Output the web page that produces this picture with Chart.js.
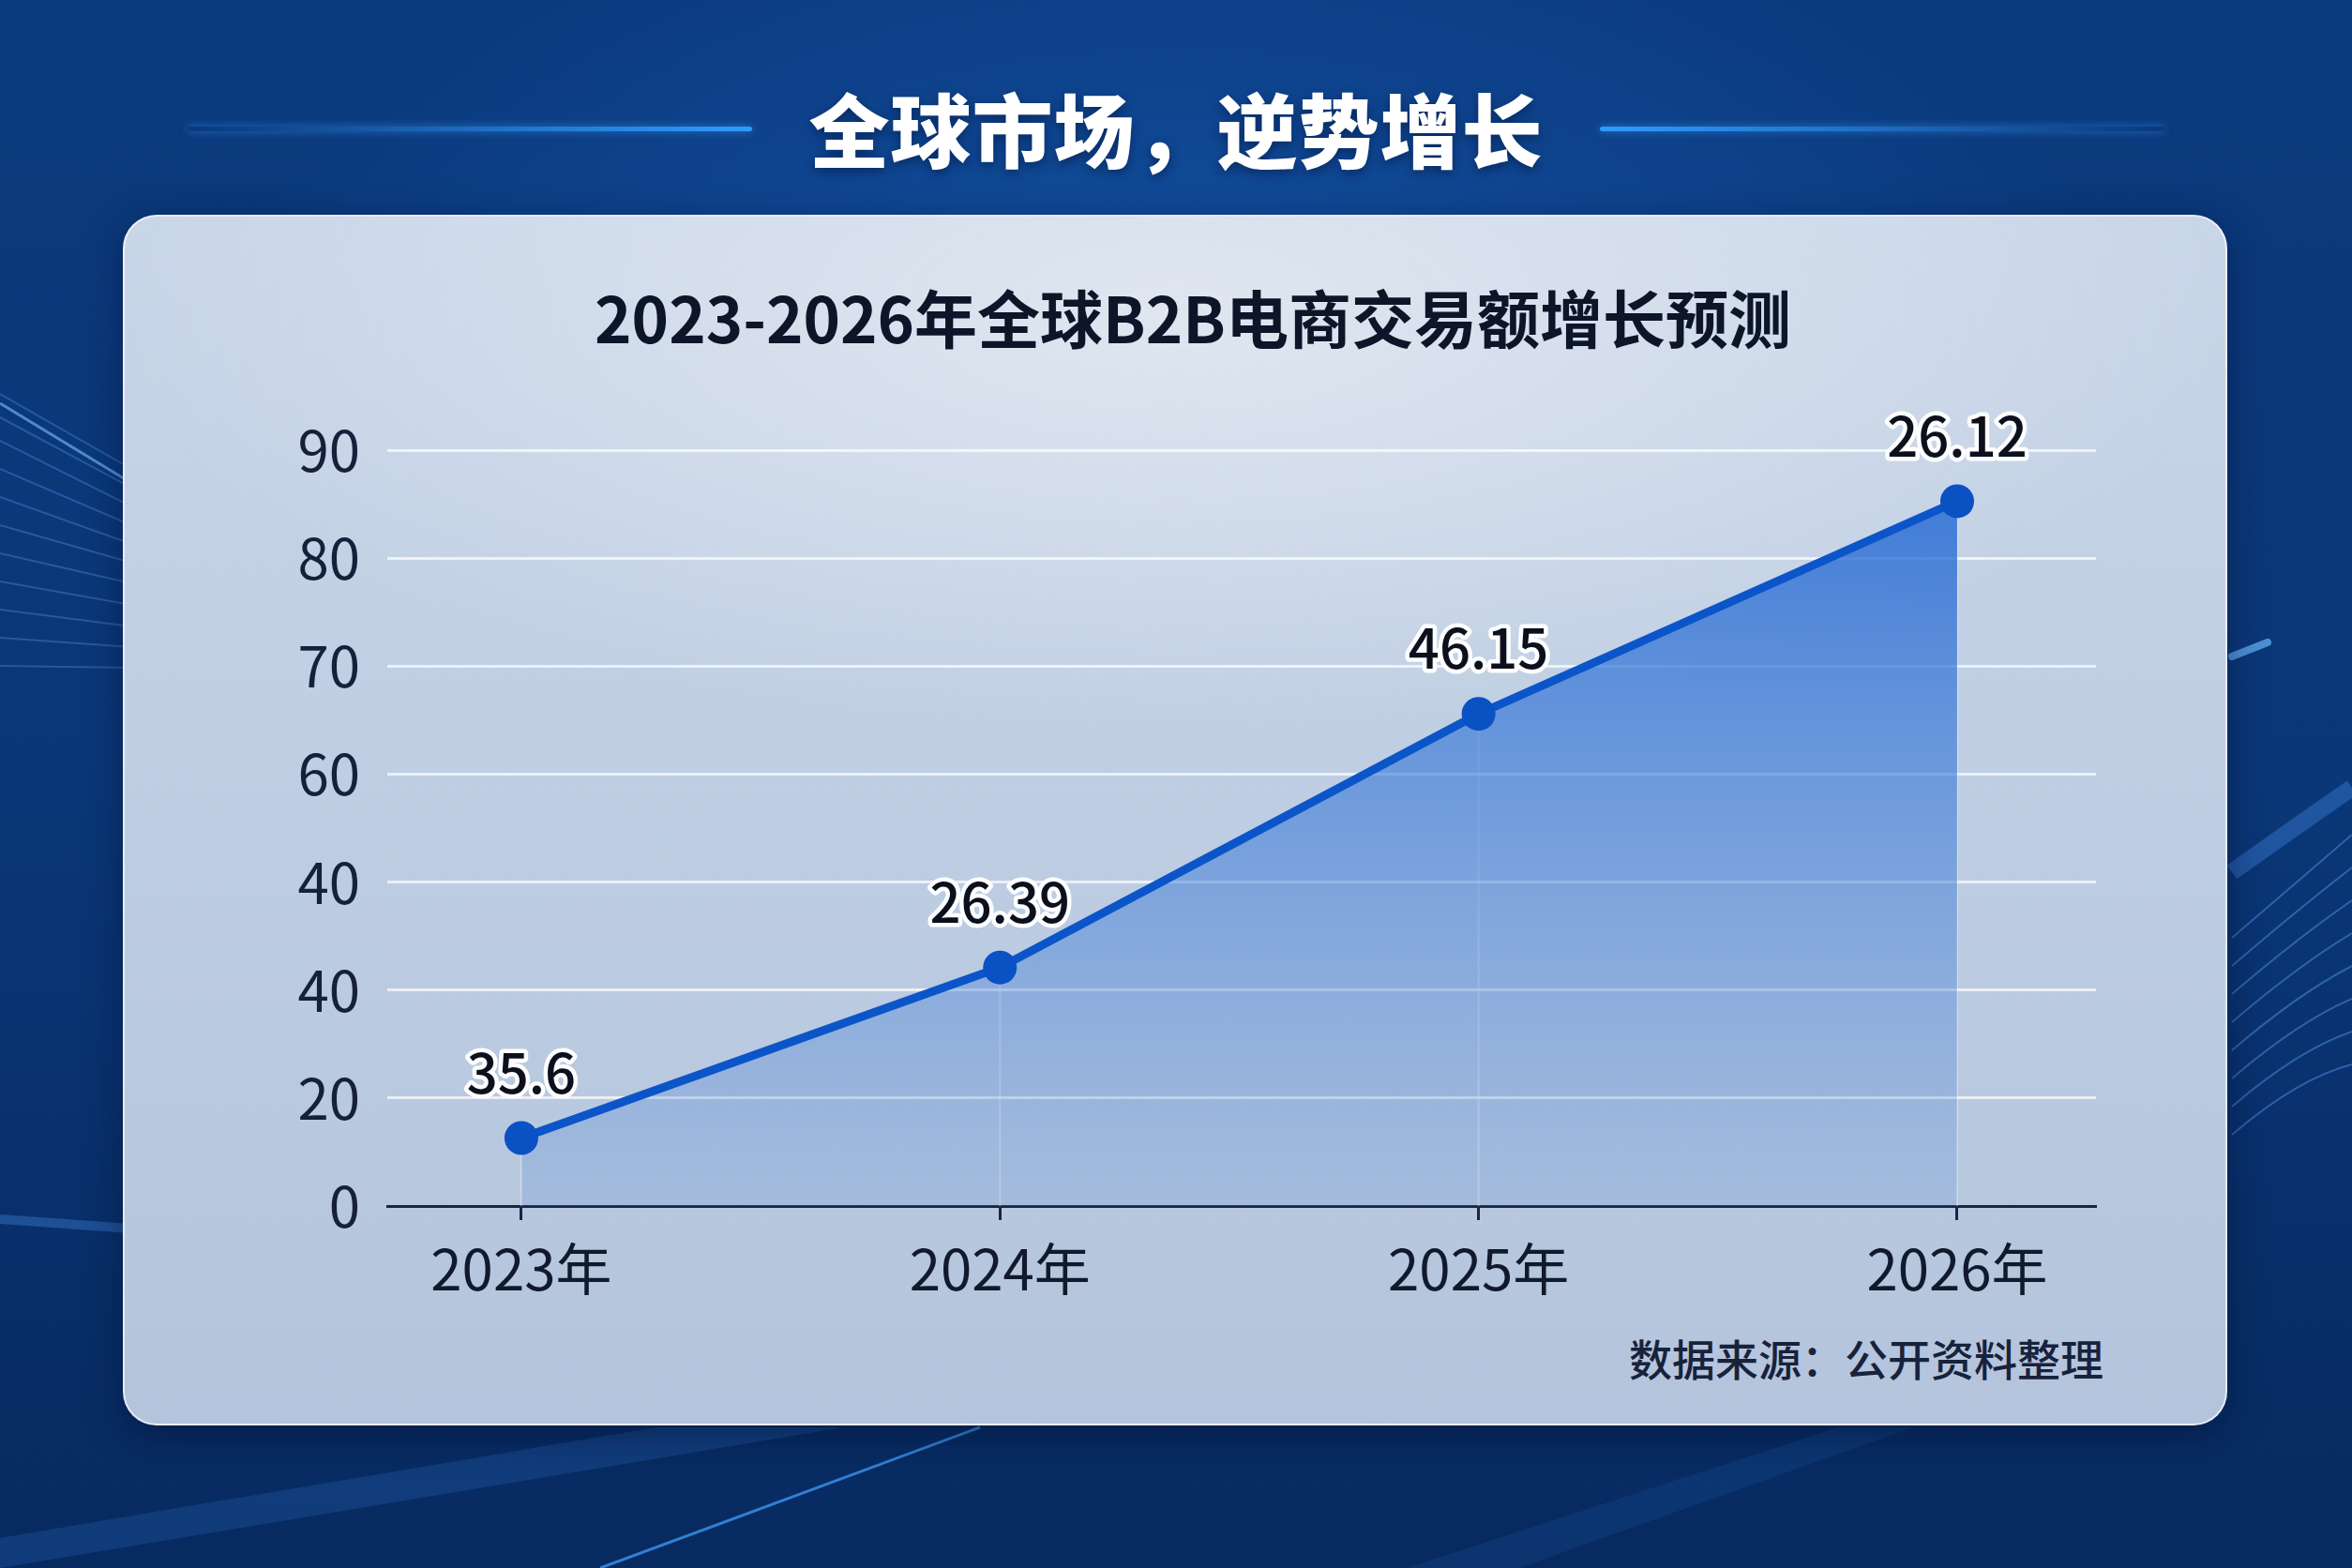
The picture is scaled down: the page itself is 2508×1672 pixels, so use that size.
<!DOCTYPE html>
<html lang="zh-CN">
<head>
<meta charset="utf-8">
<title>全球市场，逆势增长</title>
<script src="https://cdn.jsdelivr.net/npm/chart.js@4.4.1/dist/chart.umd.min.js"></script>
<style>
  html, body { margin: 0; width: 2508px; height: 1672px; overflow: hidden; }
  body {
    position: relative;
    font-family: "Noto Sans CJK SC", "Noto Sans", sans-serif;
    background:
      radial-gradient(ellipse 55% 45% at 50% 25%, rgba(20, 86, 170, 0.9) 0%, rgba(20, 86, 170, 0) 75%),
      linear-gradient(180deg, #0b3a7e 0%, #0a3777 50%, #072a60 100%);
  }
  #deco { position: absolute; left: 0; top: 0; }
  .headline {
    position: absolute; left: 0; width: 2508px; top: 84px; height: 104px;
    text-align: center; color: #fff; font-size: 86px; font-weight: 900; line-height: 104px;
    text-shadow: 0 4px 12px rgba(0, 20, 60, 0.55);
    letter-spacing: 1px;
  }
  .rule { position: absolute; top: 135px; height: 5px; border-radius: 3px; }
  .rule.left { left: 200px; width: 602px; background: linear-gradient(90deg, rgba(40,150,255,0) 0%, #2f9bff 100%); box-shadow: 0 0 10px rgba(60,160,255,0.6); }
  .rule.right { left: 1706px; width: 602px; background: linear-gradient(90deg, #2f9bff 0%, rgba(40,150,255,0) 100%); box-shadow: 0 0 10px rgba(60,160,255,0.6); }
  .card {
    position: absolute; left: 131px; top: 229px; width: 2244px; height: 1291px;
    border-radius: 36px; box-sizing: border-box;
    border: 2px solid rgba(255, 255, 255, 0.65);
    background:
      radial-gradient(ellipse 50% 35% at 50% 8%, rgba(226, 232, 241, 0.9) 0%, rgba(226, 232, 241, 0) 100%),
      linear-gradient(180deg, #c9d6e8 0%, #bfcee3 45%, #b3c4dc 100%);
    box-shadow: 0 10px 40px rgba(0, 10, 40, 0.45);
  }
  .source {
    position: absolute; right: 265px; top: 1417px; height: 60px; line-height: 60px;
    font-size: 46px; font-weight: 500; color: #18223b;
  }
  #chart { position: absolute; left: 0; top: 0; }
</style>
</head>
<body>
<svg id="deco" width="2508" height="1672" viewBox="0 0 2508 1672">
  <g stroke="#5fa8ff" fill="none" stroke-width="2" opacity="0.3">
    <path d="M0 420 L140 500"/><path d="M0 445 L140 520"/><path d="M0 470 L140 540"/>
    <path d="M0 500 L140 560"/><path d="M0 530 L140 580"/><path d="M0 560 L140 600"/>
    <path d="M0 590 L140 622"/><path d="M0 620 L140 645"/><path d="M0 650 L140 668"/>
    <path d="M0 680 L140 690"/><path d="M0 710 L140 712"/>
  </g>
  <path d="M0 430 L140 515" stroke="#7fc0ff" stroke-width="3" opacity="0.6" fill="none"/>
  <path d="M0 1300 L140 1310" stroke="#4f9bf5" stroke-width="10" opacity="0.3" fill="none"/>
  <g stroke="#5fa8ff" fill="none" stroke-width="2" opacity="0.4">
    <path d="M2380 1000 Q2450 940 2508 890"/><path d="M2380 1030 Q2450 970 2508 925"/>
    <path d="M2380 1060 Q2450 1000 2508 960"/><path d="M2380 1090 Q2450 1030 2508 995"/>
    <path d="M2380 1120 Q2450 1060 2508 1030"/><path d="M2380 1150 Q2450 1090 2508 1065"/>
    <path d="M2380 1180 Q2450 1120 2508 1100"/><path d="M2380 1210 Q2450 1150 2508 1135"/>
  </g>
  <path d="M2380 930 Q2450 880 2508 840" stroke="#4a90f0" stroke-width="18" opacity="0.35" fill="none"/>
  <path d="M2380 700 L2418 685" stroke="#6ab4ff" stroke-width="8" opacity="0.7" stroke-linecap="round"/>
  <path d="M640 1672 L1045 1522" stroke="#3d95f0" stroke-width="3" opacity="0.8" fill="none"/>
  <path d="M0 1640 L700 1522 L900 1522 L0 1672 Z" fill="#2a70c8" opacity="0.25"/>
  <path d="M1500 1672 L1960 1522 L2040 1522 L1620 1672 Z" fill="#2a70c8" opacity="0.15"/>
</svg>
<div class="rule left"></div>
<div class="rule right"></div>
<div class="headline">全球市场，逆势增长</div>
<div class="card"></div>
<div class="source">数据来源：公开资料整理</div>
<canvas id="chart" width="2508" height="1672"></canvas>
<script>
// categories on the x axis
const years = ["2023年", "2024年", "2025年", "2026年"];
// y tick labels as printed, bottom to top (one per gridline)
const yTickLabels = ["0", "20", "40", "40", "60", "70", "80", "90"];
// point heights, read in gridline steps (0 = bottom line, 7 = top line)
const levels = [0.63, 2.21, 4.56, 6.53];
// labels printed above each point
const pointLabels = ["35.6", "26.39", "46.15", "26.12"];

const FONT = '"Noto Sans CJK SC", "Noto Sans", sans-serif';

// faint vertical line from each point down to the axis
const dropLines = {
  id: "dropLines",
  beforeDatasetsDraw(chart) {
    const { ctx, chartArea } = chart;
    const meta = chart.getDatasetMeta(0);
    ctx.save();
    ctx.strokeStyle = "rgba(255,255,255,0.35)";
    ctx.lineWidth = 2;
    meta.data.forEach((pt) => {
      ctx.beginPath();
      ctx.moveTo(pt.x, pt.y);
      ctx.lineTo(pt.x, chartArea.bottom);
      ctx.stroke();
    });
    ctx.restore();
  },
};

// value text with white halo above the points
const valueLabels = {
  id: "valueLabels",
  afterDatasetsDraw(chart) {
    const { ctx } = chart;
    const meta = chart.getDatasetMeta(0);
    ctx.save();
    ctx.font = "500 58px " + FONT;
    ctx.textAlign = "center";
    ctx.textBaseline = "middle";
    ctx.lineJoin = "round";
    meta.data.forEach((pt, i) => {
      const y = pt.y - 70;
      ctx.lineWidth = 9;
      ctx.strokeStyle = "rgba(255,255,255,0.95)";
      ctx.strokeText(pointLabels[i], pt.x, y);
      ctx.fillStyle = "#0c0f1c";
      ctx.fillText(pointLabels[i], pt.x, y);
    });
    ctx.restore();
  },
};

new Chart(document.getElementById("chart"), {
  type: "line",
  data: {
    datasets: [
      {
        label: "交易额",
        data: years.map((y, i) => ({ x: i, y: levels[i] })),
        borderColor: "#0b55c9",
        borderWidth: 9,
        pointRadius: 18,
        pointHoverRadius: 18,
        pointBackgroundColor: "#0a51c3",
        pointBorderWidth: 0,
        tension: 0,
        clip: false,
        fill: "origin",
        backgroundColor: (ctx) => {
          const area = ctx.chart.chartArea;
          if (!area) return "rgba(40,110,210,0.5)";
          const g = ctx.chart.ctx.createLinearGradient(0, area.top, 0, area.bottom);
          g.addColorStop(0, "rgba(30,100,210,0.85)");
          g.addColorStop(0.5, "rgba(55,120,215,0.55)");
          g.addColorStop(1, "rgba(90,140,215,0.2)");
          return g;
        },
      },
    ],
  },
  options: {
    responsive: false,
    devicePixelRatio: 1,
    animation: false,
    layout: { padding: { left: 309, right: 273, top: 282, bottom: 276 } },
    plugins: {
      legend: { display: false },
      tooltip: { enabled: false },
      title: {
        display: true,
        text: "2023-2026年全球B2B电商交易额增长预测",
        color: "#0c1628",
        font: { family: FONT, size: 67, weight: "bold", lineHeight: 1.2 },
        padding: { top: 18, bottom: 100 },
      },
    },
    scales: {
      x: {
        type: "linear",
        min: -0.28,
        max: 3.29,
        afterBuildTicks: (axis) => {
          axis.ticks = years.map((_, i) => ({ value: i }));
        },
        afterFit: (axis) => { axis.height = 110; },
        ticks: {
          autoSkip: false,
          maxRotation: 0,
          padding: 16,
          color: "#111a2c",
          font: { family: FONT, size: 60 },
          callback: (v) => years[v],
        },
        grid: {
          drawOnChartArea: false,
          drawTicks: true,
          tickLength: 15,
          tickWidth: 3,
          tickColor: "#1a2540",
        },
        border: { display: true, color: "#1a2540", width: 3 },
      },
      y: {
        min: 0,
        max: 7,
        afterFit: (axis) => { axis.width = 104; },
        ticks: {
          stepSize: 1,
          padding: 29,
          color: "#16203a",
          font: { family: FONT, size: 60 },
          callback: (v) => yTickLabels[v],
        },
        grid: {
          drawTicks: false,
          lineWidth: 3,
          color: (c) => (c.tick && c.tick.value === 0 ? "rgba(0,0,0,0)" : "rgba(255,255,255,0.7)"),
        },
        border: { display: false },
      },
    },
  },
  plugins: [dropLines, valueLabels],
});
</script>
</body>
</html>
